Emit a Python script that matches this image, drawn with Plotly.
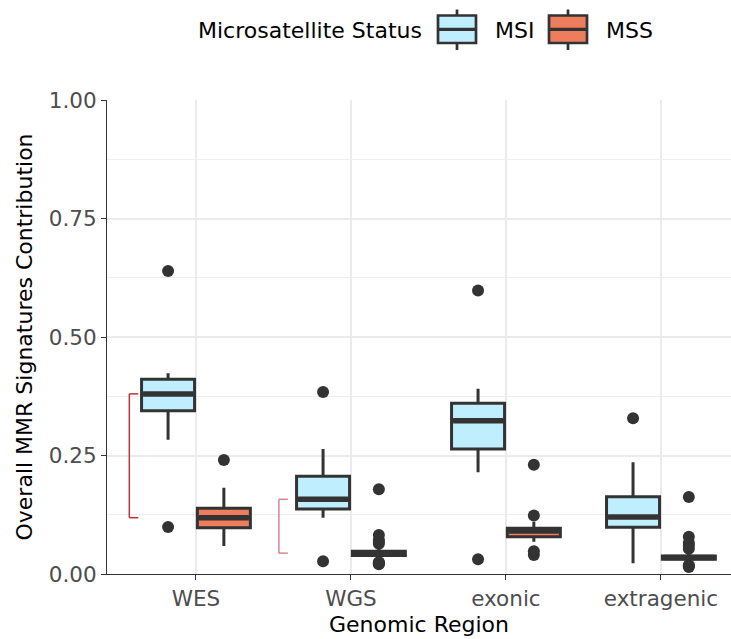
import numpy as np
import plotly.graph_objects as go

# ---------------- data ----------------
regions = ["WES", "WGS", "exonic", "extragenic"]
statuses = ["MSI", "MSS"]

msi_wes = [0.099, 0.283, 0.320, 0.3445, 0.355, 0.370, 0.380, 0.390, 0.400, 0.411, 0.415, 0.4235, 0.639]
msi_wgs = [0.0268, 0.1188, 0.128, 0.137, 0.145, 0.152, 0.1576, 0.172, 0.190, 0.206, 0.225, 0.2637, 0.384]
msi_exonic = [0.031, 0.2145, 0.240, 0.2637, 0.285, 0.305, 0.3234, 0.335, 0.348, 0.360, 0.372, 0.391, 0.598]
msi_extragenic = [0.0226, 0.070, 0.088, 0.0985, 0.105, 0.112, 0.120, 0.130, 0.145, 0.163, 0.190, 0.2356, 0.3284]

mss_wes = [0.059, 0.072, 0.082, 0.089, 0.094, 0.0977, 0.102, 0.107, 0.111, 0.115, 0.1188,
           0.122, 0.126, 0.130, 0.134, 0.1386, 0.145, 0.152, 0.163, 0.182, 0.2405]
mss_wgs = [0.0204, 0.022, 0.0235, 0.025, 0.030, 0.034, 0.037, 0.039, 0.040, 0.041, 0.042, 0.0425,
           0.043, 0.0435, 0.044, 0.0445, 0.045, 0.0455, 0.046, 0.047, 0.0475, 0.048, 0.052, 0.056,
           0.064, 0.068, 0.072, 0.0823, 0.1787]
mss_exonic = [0.040, 0.048, 0.068, 0.072, 0.076, 0.0788, 0.081, 0.084, 0.086, 0.088, 0.0907,
              0.092, 0.093, 0.094, 0.095, 0.0964, 0.099, 0.103, 0.110, 0.1235, 0.2306]
mss_extragenic = [0.015, 0.017, 0.019, 0.024, 0.027, 0.029, 0.030, 0.031, 0.032, 0.0325, 0.033,
                  0.0335, 0.034, 0.0345, 0.035, 0.0355, 0.036, 0.0362, 0.0367, 0.037, 0.0375, 0.038,
                  0.041, 0.045, 0.053, 0.060, 0.066, 0.0787, 0.1624]

data = {
    "MSI": [msi_wes, msi_wgs, msi_exonic, msi_extragenic],
    "MSS": [mss_wes, mss_wgs, mss_exonic, mss_extragenic],
}
fills = {"MSI": "#BFEFFF", "MSS": "#EE7D5E"}

# comparisons drawn as brackets (region, colour, horizontal offset)
brackets = [("WES", "#C0303A", -0.43), ("WGS", "#D9848C", -0.465)]

y_ticks = [0.0, 0.25, 0.5, 0.75, 1.0]
y_minor = [0.125, 0.375, 0.625, 0.875]
legend_title = "Microsatellite Status"

# ---------------- figure ----------------
FONT = "DejaVu Sans"
BOXGAP = 0.28
GROUPGAP = 0.05
LINE = "#333333"
W, H = 731, 639
ML, MR, MT, MB = 107, 0, 100, 65
PW, PH = W - ML - MR, H - MT - MB


def px(xp):
    return (xp - ML) / PW


def py(yp):
    return (H - MB - yp) / PH


fig = go.Figure()
for st in statuses:
    xs, ys = [], []
    for reg, vals in zip(regions, data[st]):
        xs += [reg] * len(vals)
        ys += list(vals)
    fig.add_trace(go.Box(
        x=xs, y=ys, name=st,
        fillcolor=fills[st],
        line=dict(color=LINE, width=3),
        marker=dict(color=LINE, size=12, line=dict(width=0)),
        boxpoints="outliers",
        whiskerwidth=0,
        quartilemethod="inclusive",
        showlegend=False,
    ))

shapes = []
# thicker median lines (ggplot style)
n_tr = len(statuses)
half_w = 0.5 * (1 - BOXGAP) * (1 - GROUPGAP) / n_tr
for i, st in enumerate(statuses):
    off = 0.5 * (1 - BOXGAP) * (2 * i + 1 - n_tr) / n_tr
    for j, vals in enumerate(data[st]):
        m = float(np.median(vals))
        shapes.append(dict(type="line", xref="x", yref="y",
                           x0=j + off - half_w + 0.01, x1=j + off + half_w - 0.01,
                           y0=m, y1=m, line=dict(color=LINE, width=5.5), layer="above"))

tick = 0.058
for reg, col, xo in brackets:
    j = regions.index(reg)
    m1 = float(np.median(data["MSI"][j]))
    m2 = float(np.median(data["MSS"][j]))
    xb = j + xo
    for (a, b, c, d) in [(xb + tick, m1, xb, m1), (xb, m1, xb, m2), (xb, m2, xb + tick, m2)]:
        shapes.append(dict(type="line", xref="x", yref="y", x0=a, y0=b, x1=c, y1=d,
                           line=dict(color=col, width=1.5)))

# ---- custom ggplot-like legend ----
annotations = [dict(text=legend_title, xref="paper", yref="paper", x=px(196), y=py(30),
                    xanchor="left", yanchor="middle", showarrow=False,
                    font=dict(size=22, color="black"))]
legend_items = [("MSI", 438, 493), ("MSS", 549, 604)]
for st, x_icon, x_text in legend_items:
    x0, x1 = x_icon, x_icon + 38
    xc = (x0 + x1) / 2
    shapes.append(dict(type="line", xref="paper", yref="paper", x0=px(xc), x1=px(xc),
                       y0=py(9.5), y1=py(50), line=dict(color=LINE, width=2.7)))
    shapes.append(dict(type="rect", xref="paper", yref="paper", x0=px(x0), x1=px(x1),
                       y0=py(15.5), y1=py(43), fillcolor=fills[st], line=dict(color=LINE, width=2.7)))
    shapes.append(dict(type="line", xref="paper", yref="paper", x0=px(x0), x1=px(x1),
                       y0=py(29.3), y1=py(29.3), line=dict(color=LINE, width=3.3)))
    annotations.append(dict(text=st, xref="paper", yref="paper", x=px(x_text), y=py(30),
                            xanchor="left", yanchor="middle", showarrow=False,
                            font=dict(size=22, color="black")))

fig.update_layout(
    width=W, height=H,
    margin=dict(l=ML, r=MR, t=MT, b=MB),
    paper_bgcolor="white", plot_bgcolor="white",
    boxmode="group", boxgap=BOXGAP, boxgroupgap=GROUPGAP,
    font=dict(family=FONT, size=22, color="black"),
    shapes=shapes,
    annotations=annotations,
    showlegend=False,
)

fig.update_xaxes(
    type="category", categoryorder="array", categoryarray=regions,
    range=[-0.574, 3.452],
    showgrid=True, gridcolor="#EBEBEB", gridwidth=2,
    showline=True, linecolor=LINE, linewidth=1.2,
    ticks="outside", ticklen=5, tickcolor=LINE, tickwidth=1.2,
    tickfont=dict(size=21.5, color="#4D4D4D"),
    title=dict(text="Genomic Region", font=dict(size=22), standoff=6),
    automargin=False,
)
fig.update_yaxes(
    range=[0, 1],
    tickvals=y_ticks, tickformat=".2f",
    showgrid=True, gridcolor="#EBEBEB", gridwidth=2,
    minor=dict(tickvals=y_minor, showgrid=True, gridcolor="#EEEEEE", gridwidth=1, ticks=""),
    zeroline=False,
    showline=True, linecolor=LINE, linewidth=1.2,
    ticks="outside", ticklen=5, tickcolor=LINE, tickwidth=1.2,
    tickfont=dict(size=21.5, color="#4D4D4D"),
    title=dict(text="Overall MMR Signatures Contribution", font=dict(size=22), standoff=10),
    automargin=False,
)

fig.write_html("out.html")
